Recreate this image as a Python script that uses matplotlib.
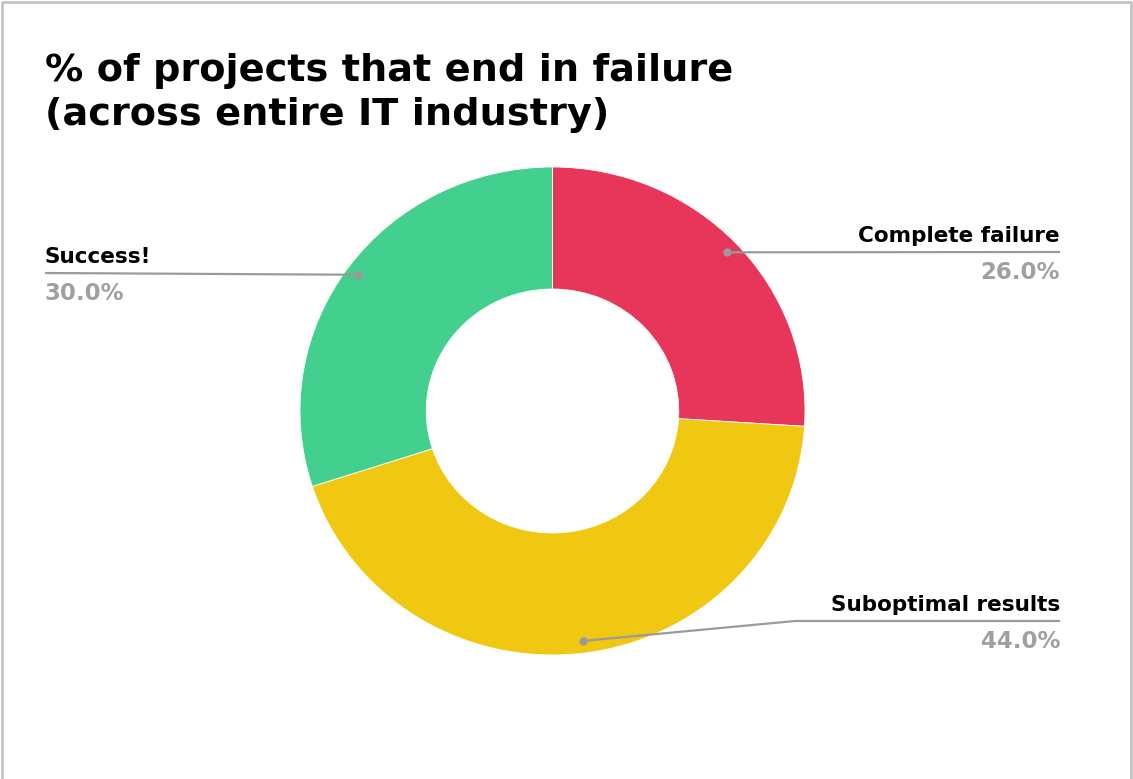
import numpy as np
import matplotlib.pyplot as plt

# chart data
categories = ["Complete failure", "Suboptimal results", "Success!"]
shares = [26.0, 44.0, 30.0]
colors = ["#E8365A", "#F0C812", "#43D08E"]

W, H = 1133, 779
plt.rcParams['font.family'] = ['DejaVu Sans']
fig = plt.figure(figsize=(W / 100, H / 100), dpi=100)

# donut in its own axes (slightly wider than tall)
cx, cy, rx, ry = 552.5, 411, 252.5, 244
pax = fig.add_axes([(cx - rx) / W, (H - cy - ry) / H, 2 * rx / W, 2 * ry / H])
wedges, _ = pax.pie(shares, colors=colors, startangle=90, counterclock=False,
                    radius=1, wedgeprops=dict(width=0.5, edgecolor="white", linewidth=0.6))
pax.set_aspect("auto")
pax.set_xlim(-1, 1)
pax.set_ylim(-1, 1)
pax.axis("off")

# overlay axes in pixel coordinates for title, leader lines and labels
ov = fig.add_axes([0, 0, 1, 1], zorder=5)
ov.set_xlim(0, W)
ov.set_ylim(H, 0)
ov.axis("off")
ov.patch.set_alpha(0)

# frame around the chart (left, top, right)
ov.plot([1.5, 1.5, W - 2.5, W - 2.5], [H, 1.5, 1.5, H], color="#c4c4c4", lw=2, clip_on=False)

ov.text(45, 53, "% of projects that end in failure\n(across entire IT industry)",
        fontsize=27.5, fontweight="bold", color="black", va="top", ha="left", linespacing=1.3)

# label layout: (text x, line y, alignment, elbow x)
layout = {
    "Complete failure": (1060, 252, "right", None),
    "Suboptimal results": (1060, 621, "right", 795),
    "Success!": (45, 273, "left", None),
}

line_c = "#9a9a9a"
for w, cat, val in zip(wedges, categories, shares):
    a = np.deg2rad((w.theta1 + w.theta2) / 2)
    dx = cx + 0.95 * rx * np.cos(a)
    dy = cy - 0.95 * ry * np.sin(a)
    tx, ly, ha, elbow = layout[cat]
    if elbow is None:
        xs, ys = [dx, tx], [dy, ly]
    else:
        xs, ys = [dx, elbow, tx], [dy, ly, ly]
    ov.plot(xs, ys, color=line_c, lw=1.6, solid_capstyle="butt")
    ov.plot([dx], [dy], "o", color=line_c, ms=5)
    ov.text(tx, ly - 6, cat, fontsize=15.5, fontweight="bold", color="black", ha=ha, va="bottom")
    ov.text(tx, ly + 9, f"{val:.1f}%", fontsize=16.5, fontweight="bold", color="#a0a0a0", ha=ha, va="top")

fig.savefig("out.png", dpi=100, facecolor="white")
